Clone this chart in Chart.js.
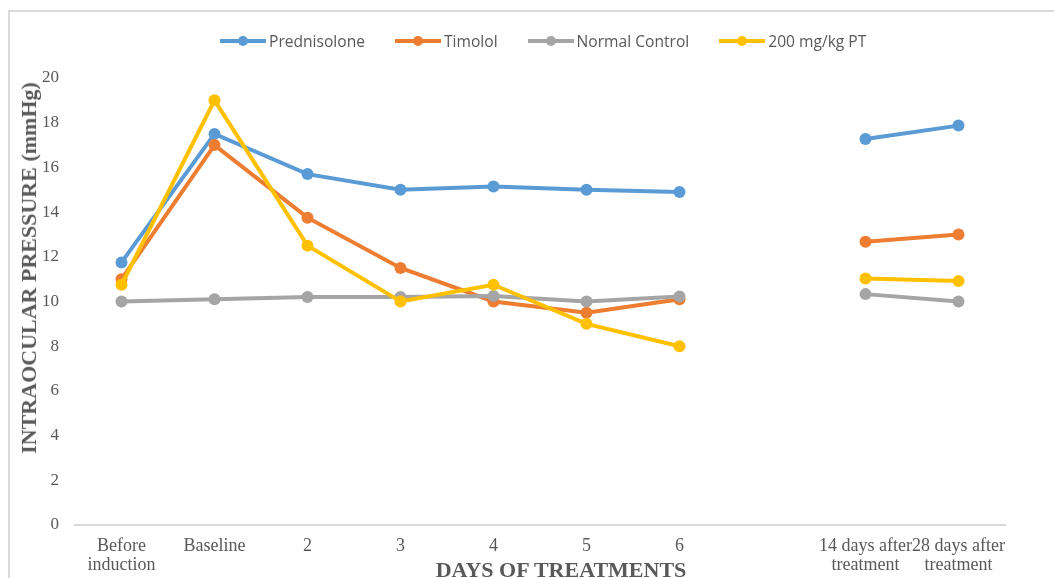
<!DOCTYPE html>
<html>
<head>
<meta charset="utf-8">
<script src="https://cdn.jsdelivr.net/npm/chart.js@4.4.1/dist/chart.umd.min.js"></script>
<style>
  html, body { margin: 0; padding: 0; background: #fff; overflow: hidden; }
  #wrap { position: relative; width: 1054px; height: 578px; }
  #frame {
    position: absolute; left: 8px; top: 10px; width: 1100px; height: 600px;
    border-top: 2px solid #d9d9d9; border-left: 2px solid #d9d9d9;
  }
  #chart { position: absolute; left: 0; top: 0; }
  #legend {
    position: absolute; left: 220px; top: 31px; height: 20px;
    display: flex; align-items: center;
    font-family: "Open Sans", sans-serif; font-size: 15.6px; color: #595959;
  }
  .item { display: flex; align-items: center; margin-right: 30px; }
  .swatch { position: relative; width: 46px; height: 4px; margin-right: 3px; }
  .swatch i {
    position: absolute; left: 18px; top: -3px; width: 10px; height: 10px; border-radius: 50%;
    background: inherit;
  }
  .axis-title {
    position: absolute; white-space: nowrap;
    font-family: "Liberation Serif", "Times New Roman", serif; font-weight: bold;
    font-size: 22px; line-height: 22px; color: #595959;
  }
  #ytitle { left: 29px; top: 268px; transform: translate(-50%, -50%) rotate(-90deg); }
  #xtitle { left: 561px; top: 559px; transform: translateX(-50%); }
</style>
</head>
<body>
<div id="wrap">
  <div id="frame"></div>
  <canvas id="chart" width="1054" height="578"></canvas>
  <div id="legend"></div>
  <div class="axis-title" id="ytitle">INTRAOCULAR PRESSURE (mmHg)</div>
  <div class="axis-title" id="xtitle">DAYS OF TREATMENTS</div>
</div>
<script>
// categories (empty slot between day 6 and the follow-ups)
const labels = [
  ["Before", "induction"], "Baseline", "2", "3", "4", "5", "6", "",
  ["14 days after", "treatment"], ["28 days after", "treatment"]
];

const prednisolone  = [11.75, 17.5, 15.7, 15.0, 15.15, 15.0, 14.9, null, 17.27, 17.87];
const timolol       = [11.0, 17.0, 13.75, 11.5, 10.0, 9.5, 10.1, null, 12.67, 13.0];
const normalControl = [10.0, 10.1, 10.2, 10.2, 10.25, 10.0, 10.22, null, 10.33, 10.0];
const pt200         = [10.75, 19.0, 12.5, 10.0, 10.75, 9.0, 8.0, null, 11.03, 10.92];

const series = [
  { name: "Prednisolone",   data: prednisolone,  color: "#5B9BD5", order: 3 },
  { name: "Timolol",        data: timolol,       color: "#ED7D31", order: 2 },
  { name: "Normal Control", data: normalControl, color: "#A5A5A5", order: 1 },
  { name: "200 mg/kg PT",   data: pt200,         color: "#FFC000", order: 0 }
];

// html legend: line with a dot, like the office style
const legend = document.getElementById("legend");
series.forEach(s => {
  const item = document.createElement("div");
  item.className = "item";
  item.innerHTML = `<span class="swatch" style="background:${s.color}"><i></i></span>${s.name}`;
  legend.appendChild(item);
});

const serif = "'Liberation Serif', 'Times New Roman', serif";

new Chart(document.getElementById("chart"), {
  type: "line",
  data: {
    labels,
    datasets: series.map(s => ({
      label: s.name,
      data: s.data,
      order: s.order,
      borderColor: s.color,
      backgroundColor: s.color,
      borderWidth: 4,
      pointRadius: 6,
      pointBorderWidth: 0,
      pointHoverRadius: 6,
      tension: 0,
      spanGaps: false
    }))
  },
  options: {
    responsive: false,
    animation: false,
    layout: { padding: { top: 78, right: 49, left: 0, bottom: 0 } },
    plugins: { legend: { display: false }, tooltip: { enabled: false } },
    scales: {
      x: {
        offset: true,
        grid: { display: true, drawOnChartArea: false, drawTicks: false },
        border: { display: true, color: "#d9d9d9", width: 2 },
        ticks: {
          color: "#595959", padding: 12, maxRotation: 0, autoSkip: false,
          font: { family: serif, size: 18, lineHeight: 1.06 }
        },
        afterFit: s => { s.height = 53; }
      },
      y: {
        min: 0, max: 20,
        grid: { display: false },
        border: { display: false },
        ticks: {
          stepSize: 2, color: "#595959", padding: 8,
          font: { family: serif, size: 17 }
        },
        afterFit: s => { s.width = 75; }
      }
    }
  }
});
</script>
</body>
</html>
